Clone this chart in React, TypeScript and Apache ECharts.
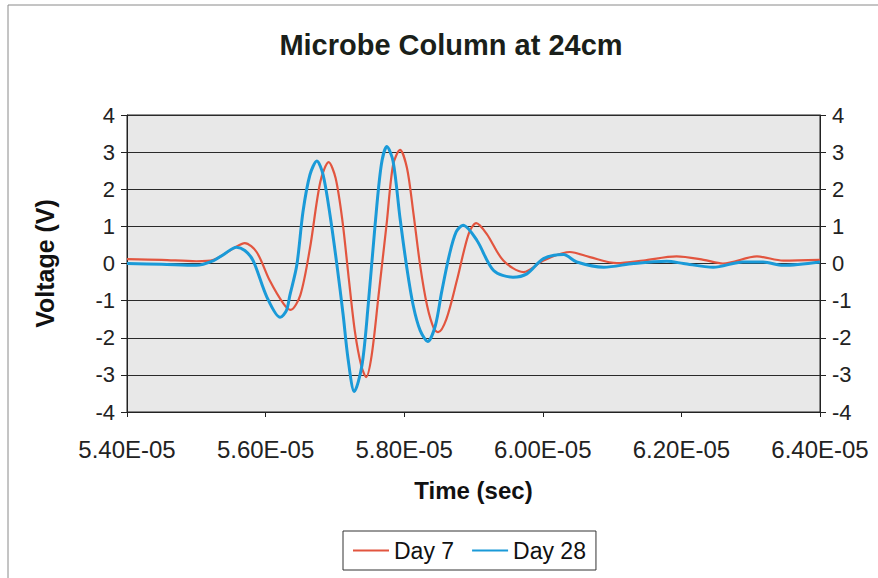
import React, { useEffect, useRef } from "react";
import * as echarts from "echarts";

// Time in microseconds (axis labels are printed in seconds)
const day7Time = [54.0, 54.5, 55.0, 55.25, 55.53, 55.7, 55.87, 56.06, 56.26, 56.36, 56.5, 56.64, 56.79, 56.91, 57.01, 57.11, 57.2, 57.29, 57.38, 57.45, 57.53, 57.63, 57.75, 57.84, 57.94, 58.04, 58.13, 58.23, 58.33, 58.43, 58.49, 58.61, 58.76, 58.93, 59.04, 59.19, 59.43, 59.72, 60.01, 60.39, 60.68, 61.07, 61.45, 61.93, 62.32, 62.6, 63.09, 63.47, 64.0];
const day7Volt = [0.12, 0.1, 0.06, 0.1, 0.4, 0.55, 0.31, -0.46, -1.09, -1.25, -0.86, 0.41, 2.2, 2.73, 2.3, 1.13, -0.4, -1.85, -2.75, -3.06, -2.48, -0.86, 1.13, 2.66, 3.06, 2.57, 1.4, -0.05, -1.13, -1.76, -1.85, -1.49, -0.46, 0.8, 1.09, 0.8, 0.08, -0.23, 0.08, 0.31, 0.17, 0.01, 0.08, 0.19, 0.1, 0.0, 0.19, 0.08, 0.1];

const day28Time = [54.0, 54.5, 55.0, 55.25, 55.4, 55.58, 55.7, 55.82, 56.02, 56.21, 56.3, 56.35, 56.45, 56.54, 56.64, 56.74, 56.83, 56.93, 57.03, 57.12, 57.19, 57.28, 57.39, 57.48, 57.58, 57.67, 57.75, 57.84, 57.94, 58.04, 58.13, 58.23, 58.34, 58.45, 58.54, 58.65, 58.75, 58.85, 59.05, 59.29, 59.57, 59.77, 60.01, 60.3, 60.49, 60.88, 61.31, 61.79, 62.03, 62.46, 62.89, 63.18, 63.47, 64.0];
const day28Volt = [0.0, -0.02, -0.05, 0.08, 0.25, 0.44, 0.35, 0.08, -0.91, -1.45, -1.27, -0.86, -0.05, 1.4, 2.39, 2.76, 2.39, 1.3, -0.05, -1.4, -2.57, -3.45, -2.75, -1.13, 1.04, 2.66, 3.15, 2.75, 1.22, -0.14, -1.13, -1.8, -2.1, -1.67, -0.77, 0.22, 0.85, 1.03, 0.62, -0.19, -0.37, -0.28, 0.13, 0.24, 0.04, -0.1, 0.0, 0.06, 0.0, -0.1, 0.04, 0.04, -0.05, 0.04];

const seriesNames = ["Day 7", "Day 28"];
const seriesColors = ["#e2553f", "#1a9ad8"];
const xMin = 54;
const xMax = 64;
const xStep = 2;
const yMin = -4;
const yMax = 4;
const yStep = 1;

const FONT = "'Liberation Sans', Arial, sans-serif";

const pair = (t: number[], v: number[]) => t.map((x, i) => [x, v[i]]);
const fmtTime = (v: number) => (v / 10).toFixed(2) + "E-05";

export default function App() {
  const ref = useRef<HTMLDivElement>(null);
  useEffect(() => {
    if (!ref.current) return;
    const chart = echarts.init(ref.current, undefined, { renderer: "svg" });
    const yAxisBase = {
      type: "value",
      min: yMin,
      max: yMax,
      interval: yStep,
      axisLine: { show: true, lineStyle: { color: "#222", width: 1 } },
      axisTick: { show: true, length: 6, lineStyle: { color: "#222" } },
      axisLabel: { fontSize: 22, color: "#222", fontFamily: FONT, margin: 12 },
      splitLine: { show: true, lineStyle: { color: "#2a2a2a", width: 1 } },
    };
    chart.setOption({
      animation: false,
      backgroundColor: "#ffffff",
      title: {
        text: "Microbe Column at 24cm",
        left: 446,
        textAlign: "center",
        top: 25,
        textStyle: { fontSize: 29, fontWeight: "bold", color: "#1a1f1a", fontFamily: FONT },
      },
      graphic: [
        {
          type: "rect",
          shape: { x: 8, y: 5, width: 900, height: 600 },
          style: { fill: "none", stroke: "#8a8a8a", lineWidth: 1 },
          silent: true,
        },
      ],
      legend: {
        data: seriesNames,
        left: 343,
        top: 531,
        icon: "rect",
        itemWidth: 36,
        itemHeight: 2,
        itemGap: 18,
        padding: [8, 10, 8, 10],
        borderColor: "#333",
        borderWidth: 1,
        textStyle: { fontSize: 23, color: "#111", fontFamily: FONT },
      },
      grid: {
        left: 127,
        right: 58,
        top: 115,
        bottom: 166,
        show: true,
        backgroundColor: "#e8e8e8",
        borderColor: "#222",
        borderWidth: 1,
      },
      xAxis: {
        type: "value",
        min: xMin,
        max: xMax,
        interval: xStep,
        name: "Time (sec)",
        nameLocation: "middle",
        nameGap: 66,
        nameTextStyle: { fontSize: 24, fontWeight: "bold", color: "#111", fontFamily: FONT },
        axisLine: { show: true, onZero: false, lineStyle: { color: "#222", width: 1 } },
        axisTick: { show: true, length: 5, lineStyle: { color: "#222" } },
        axisLabel: { fontSize: 24, color: "#222", fontFamily: FONT, margin: 25, formatter: fmtTime },
        splitLine: { show: false },
      },
      yAxis: [
        {
          ...yAxisBase,
          position: "left",
          name: "Voltage (V)",
          nameLocation: "middle",
          nameGap: 70,
          nameTextStyle: { fontSize: 25, fontWeight: "bold", color: "#111", fontFamily: FONT },
        },
        {
          ...yAxisBase,
          position: "right",
          splitLine: { show: false },
        },
      ],
      series: [
        {
          name: seriesNames[0],
          type: "line",
          data: pair(day7Time, day7Volt),
          showSymbol: false,
          symbol: "none",
          smooth: 0.3,
          lineStyle: { color: seriesColors[0], width: 2.2 },
          itemStyle: { color: seriesColors[0] },
        },
        {
          name: seriesNames[1],
          type: "line",
          data: pair(day28Time, day28Volt),
          showSymbol: false,
          symbol: "none",
          smooth: 0.3,
          lineStyle: { color: seriesColors[1], width: 3 },
          itemStyle: { color: seriesColors[1] },
        },
      ],
    });
    return () => chart.dispose();
  }, []);
  return (
    <div
      ref={ref}
      style={{ position: "absolute", left: 0, top: 0, width: 878, height: 578 }}
    />
  );
}
